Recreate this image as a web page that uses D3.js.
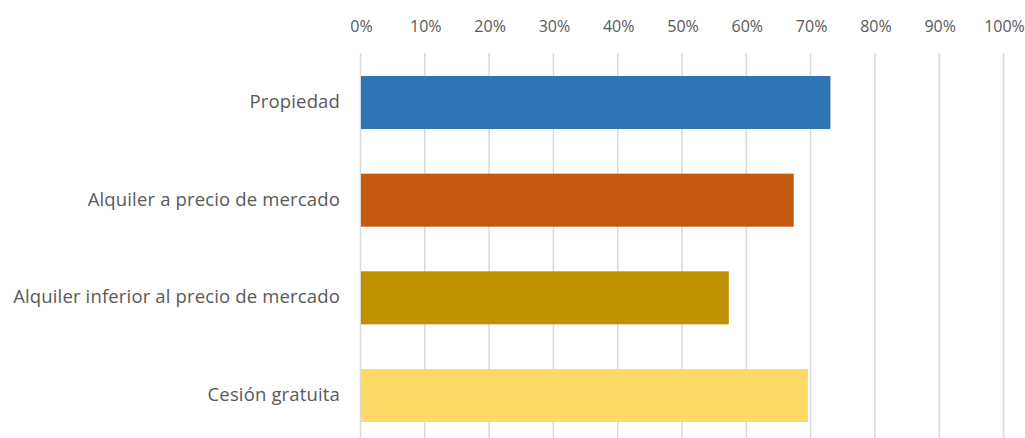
<!DOCTYPE html>
<html lang="es">
<head>
<meta charset="utf-8">
<script src="https://cdn.jsdelivr.net/npm/d3@7"></script>
<style>
  html, body { margin: 0; padding: 0; background: #ffffff; }
  svg { display: block; }
  text { font-family: "Open Sans", "Noto Sans", sans-serif; fill: #595959; }
</style>
</head>
<body>
<svg id="chart" width="1025" height="438"></svg>
<script>
// Régimen de tenencia y porcentaje correspondiente
const categories = [
  "Propiedad",
  "Alquiler a precio de mercado",
  "Alquiler inferior al precio de mercado",
  "Cesión gratuita"
];
const values = [0.73, 0.673, 0.572, 0.695];
const barColors = ["#2E75B6", "#C55A11", "#BF9000", "#FFD966"];
const tickValues = [0, 0.1, 0.2, 0.3, 0.4, 0.5, 0.6, 0.7, 0.8, 0.9, 1.0];

const svg = d3.select("#chart");
const width = 1025, height = 438;

const x = d3.scaleLinear().domain([0, 1]).range([361, 1004]);
const y = d3.scaleBand()
  .domain(categories)
  .range([53.7, 444.3])
  .paddingInner(0.457)
  .paddingOuter(0.2285);

// Vertical gridlines
svg.append("g")
  .selectAll("line")
  .data(tickValues)
  .join("line")
  .attr("x1", d => x(d) - 0.5)
  .attr("x2", d => x(d) - 0.5)
  .attr("y1", 53)
  .attr("y2", height)
  .attr("stroke", "#d9d9d9")
  .attr("stroke-width", 1.5);

// Top axis labels
const xAxis = d3.axisTop(x)
  .tickValues(tickValues)
  .tickFormat(d3.format(".0%"))
  .tickSize(0)
  .tickPadding(0);
const gx = svg.append("g")
  .attr("transform", "translate(0,32)")
  .call(xAxis);
gx.select(".domain").remove();
gx.selectAll("text")
  .attr("font-size", 16)
  .attr("dy", 0)
  .style("font-family", "'Open Sans', sans-serif")
  .attr("fill", "#595959");

// Bars
svg.append("g")
  .selectAll("rect")
  .data(categories)
  .join("rect")
  .attr("x", x(0))
  .attr("y", d => y(d))
  .attr("width", (d, i) => x(values[i]) - x(0))
  .attr("height", y.bandwidth())
  .attr("fill", (d, i) => barColors[i]);

// Category labels
const yAxis = d3.axisLeft(y).tickSize(0).tickPadding(0);
const gy = svg.append("g")
  .attr("transform", "translate(340,0)")
  .call(yAxis);
gy.select(".domain").remove();
gy.selectAll("text")
  .attr("font-size", 18.5)
  .attr("dy", "0.3em")
  .style("font-family", "'Open Sans', sans-serif")
  .style("letter-spacing", "0.15px")
  .attr("fill", "#595959");
</script>
</body>
</html>
